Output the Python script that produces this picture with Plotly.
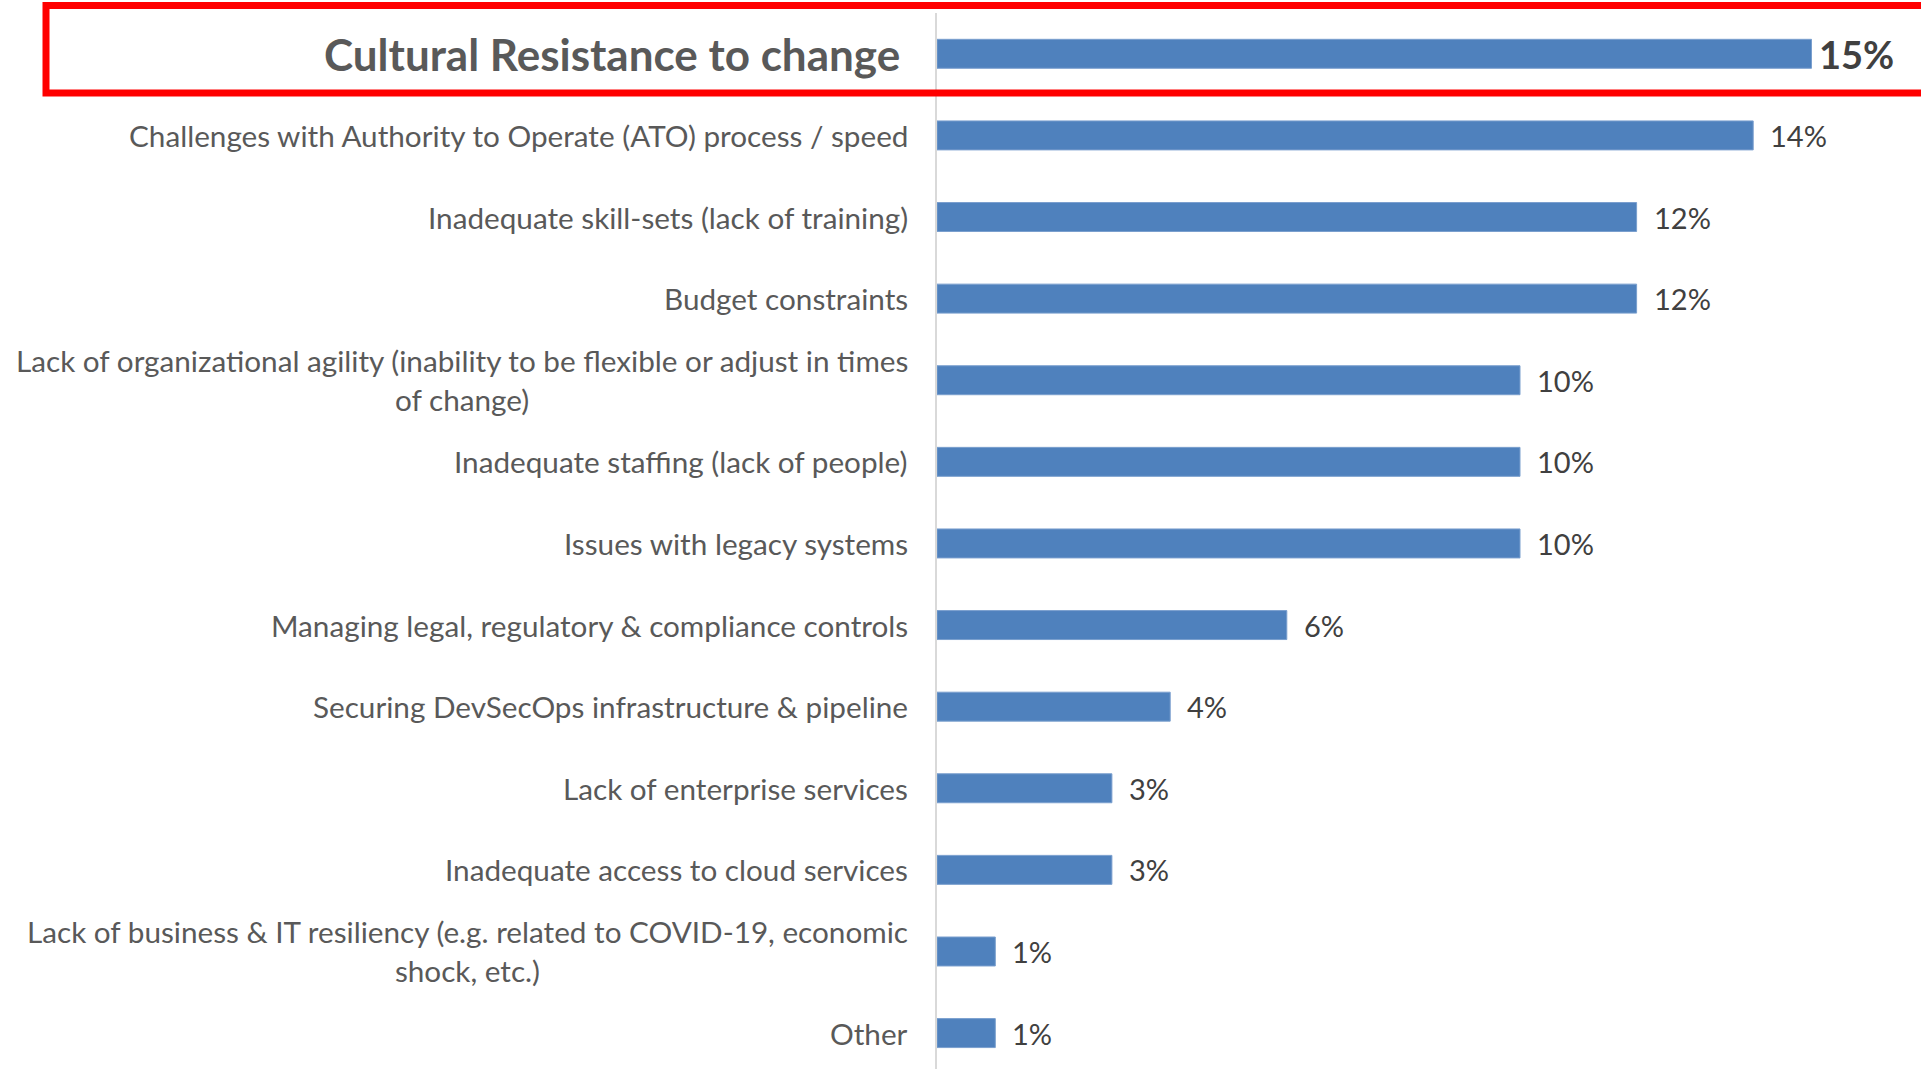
import plotly.graph_objects as go

categories = [
    "Cultural Resistance to change",
    "Challenges with Authority to Operate (ATO) process / speed",
    "Inadequate skill-sets (lack of training)",
    "Budget constraints",
    "Lack of organizational agility (inability to be flexible or adjust in times<br>of change)",
    "Inadequate staffing (lack of people)",
    "Issues with legacy systems",
    "Managing legal, regulatory & compliance controls",
    "Securing DevSecOps infrastructure & pipeline",
    "Lack of enterprise services",
    "Inadequate access to cloud services",
    "Lack of business & IT resiliency (e.g. related to COVID-19, economic<br>shock, etc.)",
    "Other",
]
values = [15, 14, 12, 12, 10, 10, 10, 6, 4, 3, 3, 1, 1]
value_labels = ["15%", "14%", "12%", "12%", "10%", "10%", "10%", "6%", "4%", "3%", "3%", "1%", "1%"]
highlight = categories[0]

FONT = "Lato"
W, H = 1921, 1069
L_M, T_M = 937, 13

fig = go.Figure()
fig.add_trace(go.Bar(
    x=values,
    y=categories,
    orientation="h",
    width=0.355,
    marker=dict(color="#4F81BD", line=dict(color="#7A9FCE", width=1)),
    hoverinfo="skip",
))

annotations = []
for cat, val, lab in zip(categories, values, value_labels):
    hl = cat == highlight
    annotations.append(dict(
        x=0, y=cat, xref="x", yref="y",
        text=f"<b>{cat}</b>" if hl else cat,
        xanchor="right", yanchor="middle", align="center",
        xshift=-35 if hl else -27,
        showarrow=False,
        font=dict(family=FONT, size=44 if hl else 29.7, color="#595959"),
    ))
    annotations.append(dict(
        x=val, y=cat, xref="x", yref="y",
        text=f"<b>{lab}</b>" if hl else lab,
        xanchor="left", yanchor="middle",
        xshift=5 if hl else 15,
        showarrow=False,
        font=dict(family=FONT, size=38 if hl else 29, color="#404040"),
    ))

fig.update_layout(
    width=W, height=H,
    margin=dict(l=L_M, r=0, t=T_M, b=0, pad=0),
    paper_bgcolor="white", plot_bgcolor="white",
    showlegend=False,
    annotations=annotations,
    xaxis=dict(range=[0, (W - L_M) / 58.3], visible=False, fixedrange=True),
    yaxis=dict(
        type="category",
        categoryorder="array", categoryarray=categories,
        range=[12.44, -0.5],
        showticklabels=False, ticks="",
        showgrid=False, zeroline=False,
        showline=True, linecolor="#D9D9D9", linewidth=2,
        fixedrange=True,
    ),
    shapes=[dict(
        type="rect", xref="paper", yref="paper",
        x0=(46 - L_M) / (W - L_M), x1=1.05,
        y0=(H - 93) / (H - T_M), y1=(H - 5.5) / (H - T_M),
        line=dict(color="#FF0000", width=7),
        fillcolor="rgba(0,0,0,0)",
        layer="above",
    )],
)

fig.write_html(
    "out.html",
    config={"displayModeBar": False},
    post_script="document.body.style.margin='0';document.body.style.overflow='hidden';",
)
